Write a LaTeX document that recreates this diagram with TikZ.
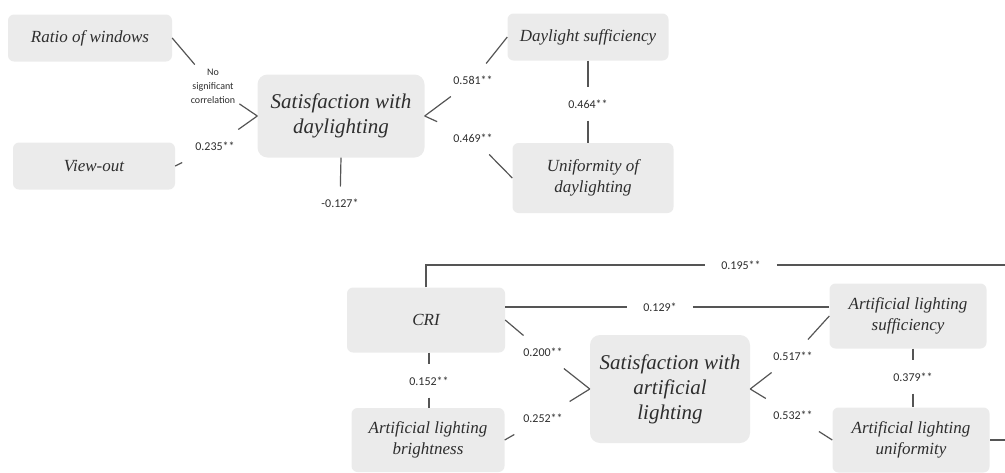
\documentclass[tikz,border=0pt]{standalone}
\usepackage{fontspec}
\setmainfont{Liberation Serif}
\newfontfamily\coeffont{Carlito}

\definecolor{boxgray}{HTML}{EBEBEB}
\definecolor{linegray}{HTML}{555555}
\definecolor{textgray}{HTML}{2E2E2E}

\begin{document}
\begin{tikzpicture}[x=1pt, y=-1pt,
    box/.style={fill=boxgray, rounded corners=6pt, text=textgray, align=center, inner sep=0pt,
      font=\fontsize{17}{21}\selectfont\itshape},
    mainbox/.style={box, rounded corners=10pt, font=\fontsize{21}{25}\selectfont\itshape},
    coef/.style={fill=white, inner xsep=16pt, inner ysep=12pt, text=textgray,
      font=\coeffont\fontsize{12}{14}\selectfont},
    link/.style={draw=linegray, line width=1.2pt}]
    \useasboundingbox (0,0) rectangle (1005,472);
    \clip (0,0) rectangle (1005,472);

    % daylighting
    \node[box, minimum width=164pt, minimum height=47pt] (ratio) at (90,38) {Ratio of windows};
    \node[box, minimum width=162pt, minimum height=47pt] (view) at (94,166) {View-out};
    \node[mainbox, minimum width=167pt, minimum height=83pt] (satday) at (341,116)
    {Satisfaction with\\daylighting};
    \node[box, minimum width=161pt, minimum height=47pt] (dsuff) at (588,37) {Daylight sufficiency};
    \node[box, minimum width=161pt, minimum height=70pt] (dunif) at (593,178)
    {Uniformity of\\daylighting};

    % artificial lighting
    \node[box, minimum width=158pt, minimum height=65pt] (cri) at (426,320) {CRI};
    \node[box, minimum width=153pt, minimum height=64pt] (bright) at (428,440)
    {Artificial lighting\\brightness};
    \node[mainbox, minimum width=160pt, minimum height=108pt] (satart) at (670,389)
    {Satisfaction with\\artificial\\lighting};
    \node[box, minimum width=157pt, minimum height=65pt] (asuff) at (908,316)
    {Artificial lighting\\sufficiency};
    \node[box, minimum width=157pt, minimum height=65pt] (aunif) at (911,440)
    {Artificial lighting\\uniformity};

    % coefficients
    \node[coef, inner sep=4pt, font=\coeffont\fontsize{10}{14}\selectfont, align=center] (c_ns) at (213,86)
    {No\\significant\\correlation};
    \node[coef] (c235) at (215,146) {0.235**};
    \node[coef] (c581) at (473,80) {0.581**};
    \node[coef] (c469) at (473,138) {0.469**};
    \node[coef] (c464) at (588,104) {0.464**};
    \node[coef] (c127) at (340,203) {-0.127*};
    \node[coef] (c195) at (741,265) {0.195**};
    \node[coef] (c129) at (660,307) {0.129*};
    \node[coef] (c200) at (543,352) {0.200**};
    \node[coef] (c252) at (543,418) {0.252**};
    \node[coef] (c152) at (429,381) {0.152**};
    \node[coef] (c517) at (793,356) {0.517**};
    \node[coef] (c532) at (793,415) {0.532**};
    \node[coef] (c379) at (913,377) {0.379**};
    \coordinate (farright) at (1015,265);

    % links
    \draw[link] (ratio.east) -- (c_ns) -- (satday.west);
    \draw[link] (view.east) -- (c235) -- (satday.west);
    \draw[link] (satday.east) -- (c581) -- (dsuff.west);
    \draw[link] (satday.east) -- (c469) -- (dunif.west);
    \draw[link] (dsuff.south -| c464) -- (c464) -- (dunif.north -| c464);
    \draw[link] (satday.south) -- (c127);

    \draw[link] (cri.north) |- (c195) -- (farright) |- (aunif.east);
    \draw[link] (cri.east |- c129) -- (c129) -- (asuff.west |- c129);
    \draw[link] (cri.east) -- (c200) -- (satart.west);
    \draw[link] (bright.east) -- (c252) -- (satart.west);
    \draw[link] (cri.south -| c152) -- (c152) -- (bright.north -| c152);
    \draw[link] (asuff.west) -- (c517) -- (satart.east);
    \draw[link] (aunif.west) -- (c532) -- (satart.east);
    \draw[link] (asuff.south -| c379) -- (c379) -- (aunif.north -| c379);
\end{tikzpicture}
\end{document}
